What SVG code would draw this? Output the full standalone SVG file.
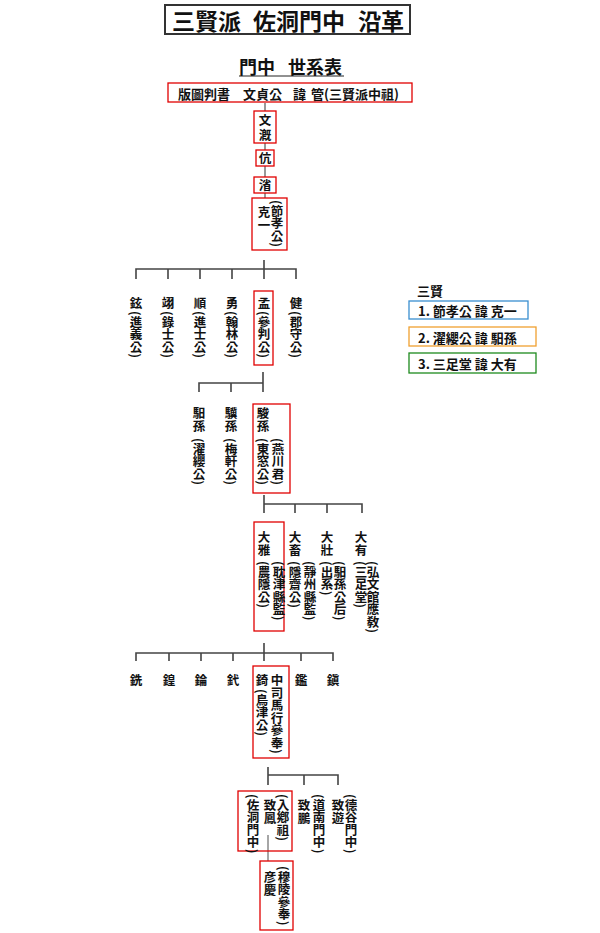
<svg xmlns="http://www.w3.org/2000/svg" width="600" height="933" viewBox="0 0 600 933">
<style>
text{font-family:"Noto Sans CJK KR","Noto Sans CJK TC",sans-serif;fill:#111;}
.v{font-size:12.5px;font-weight:700;writing-mode:vertical-rl;letter-spacing:0;}
.h{font-size:13px;font-weight:700;dominant-baseline:central;}
.red{fill:#fff;stroke:#e00000;stroke-width:1.3;}
.ln{fill:none;stroke:#444;stroke-width:1.6;}
.gl{fill:none;stroke:#999;stroke-width:2;}
</style>
<rect width="600" height="933" fill="#fff"/>

<g id="title">
<rect x="165" y="5" width="245" height="29" fill="#fff" stroke="#333" stroke-width="2"/>
<text font-size="23" font-weight="700" dominant-baseline="central" y="20"><tspan x="172">三賢派</tspan><tspan x="253">佐洞門中</tspan><tspan x="358">沿革</tspan></text>
</g>

<g id="subtitle">
<text font-size="18" font-weight="700" dominant-baseline="central" y="66"><tspan x="239">門中</tspan><tspan x="288">世系表</tspan></text>
<line x1="239" y1="76" x2="344" y2="76" stroke="#222" stroke-width="1"/>
</g>

<g id="connectors">
<line class="gl" x1="265" y1="103" x2="265" y2="198"/>
<path class="ln" d="M264 260V279M136 279V269H296V279M168 269V279M200 269V279M232 269V279"/>
<path class="ln" d="M263 372V392M199 392V383H263M231 383V392"/>
<path class="ln" d="M264 495V513M264 504H362V513M295 504V513M327 504V513"/>
<path class="ln" d="M264 643V661M136 661V653H333V661M169 653V661M201 653V661M233 653V661M301 653V661"/>
<path class="ln" d="M268 767V785M268 775H338V785M304 775V785"/>
<line x1="268" y1="835" x2="268" y2="862" stroke="#888" stroke-width="1.5"/>
</g>

<g id="n-gwan">
<rect class="red" x="168" y="83" width="244" height="19"/>
<text class="h" y="93"><tspan x="178">版圖判書</tspan><tspan x="243">文貞公</tspan><tspan x="293">諱</tspan><tspan x="311">管(三賢派中祖)</tspan></text>
</g>
<g id="n-mungae">
<rect class="red" x="254" y="111" width="22" height="32"/>
<text class="v" x="265" y="114" style="letter-spacing:2px">文漑</text>
</g>
<g id="n-hang">
<rect class="red" x="256" y="150" width="18" height="16"/>
<text class="v" x="265" y="152">伉</text>
</g>
<g id="n-seong">
<rect class="red" x="254" y="177" width="22" height="16"/>
<text class="v" x="265" y="179">渻</text>
</g>
<g id="n-keugil">
<rect class="red" x="252" y="198" width="35" height="52"/>
<text class="v" x="264" y="206">克一</text>
<text class="v" x="277" y="200">(節孝公)</text>
</g>

<g id="n-hyeon"><text class="v" x="136" y="297">鉉</text><text class="v" x="136" y="311">(進義公)</text></g>
<g id="n-ik"><text class="v" x="168" y="297">翊</text><text class="v" x="168" y="311">(錄士公)</text></g>
<g id="n-sun"><text class="v" x="200" y="297">順</text><text class="v" x="200" y="311">(進士公)</text></g>
<g id="n-yong"><text class="v" x="232" y="297">勇</text><text class="v" x="232" y="311">(翰林公)</text></g>
<g id="n-maeng">
<rect class="red" x="254" y="291" width="19" height="74"/>
<text class="v" x="264" y="297">孟</text><text class="v" x="264" y="311">(參判公)</text>
</g>
<g id="n-geon"><text class="v" x="296" y="297">健</text><text class="v" x="296" y="311">(郡守公)</text></g>

<g id="n-ilson"><text class="v" x="199" y="407">馹孫</text><text class="v" x="199" y="438">(濯纓公)</text></g>
<g id="n-gison"><text class="v" x="231" y="407">驥孫</text><text class="v" x="231" y="438">(梅軒公)</text></g>
<g id="n-junson">
<rect class="red" x="253" y="404" width="37" height="89"/>
<text class="v" x="263" y="407">駿孫</text>
<text class="v" x="263" y="438">(東窓公)</text>
<text class="v" x="278" y="438">(燕川君)</text>
</g>

<g id="n-daea">
<rect class="red" x="254" y="522" width="30" height="109"/>
<text class="v" x="264" y="531">大雅</text>
<text class="v" x="264" y="561">(農隱公)</text>
<text class="v" x="279" y="561">(耽津縣監)</text>
</g>
<g id="n-daechuk">
<text class="v" x="295" y="531">大畜</text>
<text class="v" x="295" y="561">(隱齋公)</text>
<text class="v" x="310" y="561">(靜州縣監)</text>
</g>
<g id="n-daejang">
<text class="v" x="327" y="531">大壯</text>
<text class="v" x="327" y="561">(出系)</text>
<text class="v" x="340" y="561">(馹孫公后)</text>
</g>
<g id="n-daeyu">
<text class="v" x="361" y="531">大有</text>
<text class="v" x="361" y="561">(三足堂)</text>
<text class="v" x="373" y="561">(弘文館應敎)</text>
</g>

<g id="n-seon"><text class="v" x="136" y="674">銑</text></g>
<g id="n-hwang"><text class="v" x="169" y="674">鍠</text></g>
<g id="n-ryun"><text class="v" x="201" y="674">錀</text></g>
<g id="n-ik2"><text class="v" x="233" y="674">釴</text></g>
<g id="n-gi">
<rect class="red" x="253" y="666" width="36" height="92"/>
<text class="v" x="262" y="674">錡</text>
<text class="v" x="262" y="689">(鳥津公)</text>
<text class="v" x="277" y="674">中司馬行參奉)</text>
</g>
<g id="n-gam"><text class="v" x="301" y="674">鑑</text></g>
<g id="n-jin"><text class="v" x="333" y="674">鎭</text></g>

<g id="n-chibong">
<rect class="red" x="238" y="791" width="54" height="60" style="fill:none"/>
<text class="v" x="253" y="794">(佐洞門中)</text>
<text class="v" x="270" y="799">致鳳</text>
<text class="v" x="283" y="794">(入鄕祖)</text>
</g>
<g id="n-chibung">
<text class="v" x="304" y="799">致鵬</text>
<text class="v" x="319" y="794">(道南門中)</text>
</g>
<g id="n-chiyu">
<text class="v" x="338" y="799">致遊</text>
<text class="v" x="351" y="794">(德谷門中)</text>
</g>

<g id="n-eongyeong">
<rect class="red" x="260" y="861" width="33" height="69"/>
<text class="v" x="270" y="871">彦慶</text>
<text class="v" x="284" y="866">(穆陵參奉)</text>
</g>

<g id="legend">
<text class="h" x="417" y="290">三賢</text>
<rect x="409" y="301" width="119" height="18" fill="#fff" stroke="#3a8fd0" stroke-width="1.3"/>
<text class="h" x="418" y="310">1. 節孝公 諱 克一</text>
<rect x="409" y="327" width="127" height="19" fill="#fff" stroke="#f0a030" stroke-width="1.3"/>
<text class="h" x="418" y="337">2. 濯纓公 諱 馹孫</text>
<rect x="409" y="353" width="127" height="20" fill="#fff" stroke="#1e8a1e" stroke-width="1.3"/>
<text class="h" x="418" y="363">3. 三足堂 諱 大有</text>
</g>
</svg>
